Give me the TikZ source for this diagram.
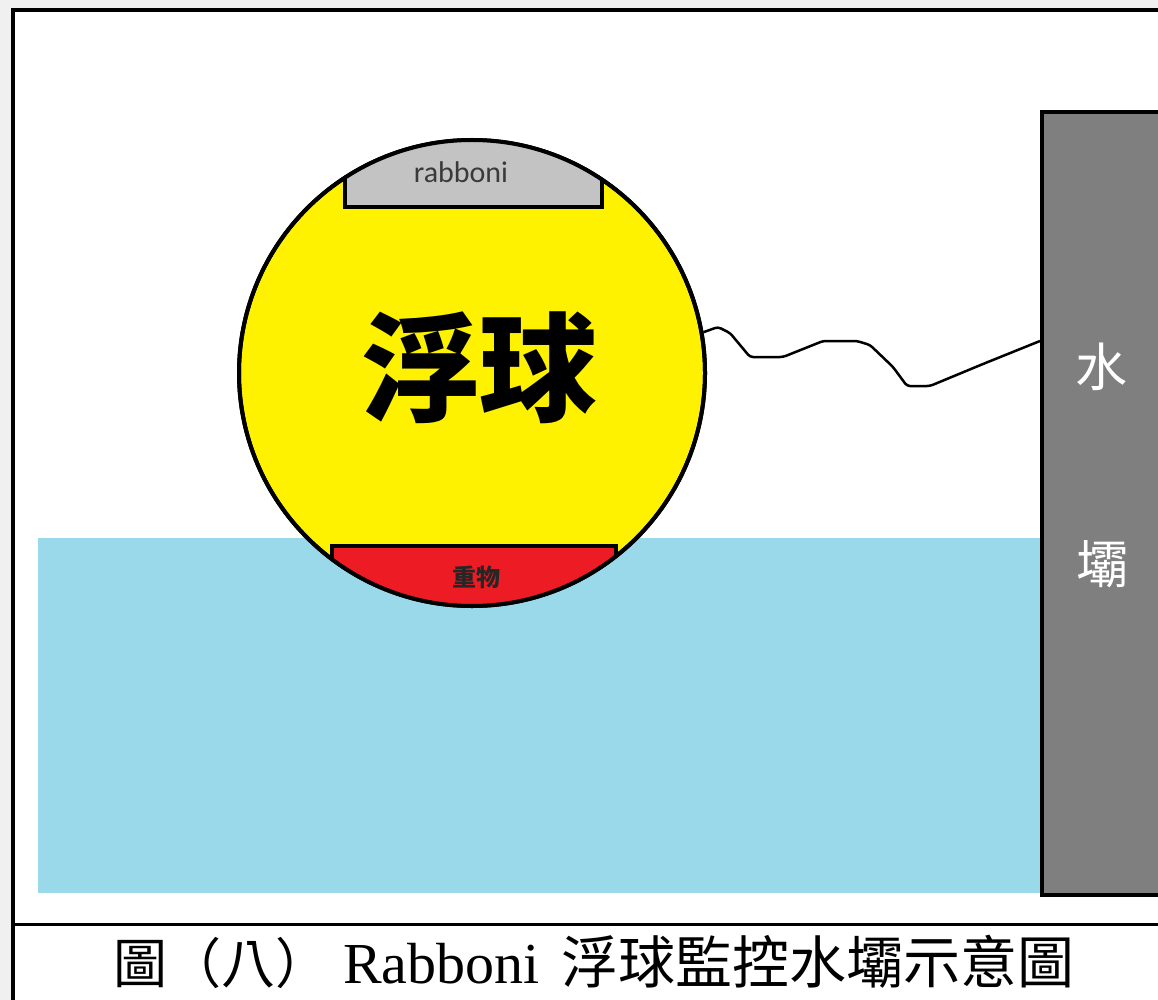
\documentclass[tikz,border=0pt]{standalone}
\usepackage{fontspec}
\newfontfamily\cjk{Noto Sans CJK TC}
\newfontfamily\labelfont{Carlito}
\newfontfamily\capserif{Liberation Serif}

\definecolor{pagegray}{HTML}{F0F0F0}
\definecolor{water}{HTML}{99D9EA}
\definecolor{ballyellow}{HTML}{FFF200}
\definecolor{weightred}{HTML}{ED1C24}
\definecolor{capgray}{HTML}{C3C3C3}
\definecolor{damgray}{HTML}{7F7F7F}
\definecolor{labelink}{HTML}{3A3A3A}

\tikzset{
  outline/.style={line width=4pt, draw=black},
  rope/.style={line width=2.5pt, line join=round, rounded corners=3pt},
  damtext/.style={text=white, font=\cjk\fontsize{52}{52}\selectfont, inner sep=0pt},
}

\begin{document}
\begin{tikzpicture}[x=1pt, y=-1pt]
  \useasboundingbox (0,0) rectangle (1158,1000);
  % page and frame
  \fill[pagegray] (0,0) rectangle (1158,1000);
  \fill[white] (13,10) rectangle (1158,1000);
  \draw[line width=3.5pt] (13,1000) -- (13,10) -- (1158,10);
  \draw[line width=3pt] (13,924) -- (1158,924);

  % water
  \fill[water] (38,538) rectangle (1040,893);

  % dam wall
  \node[outline, fill=damgray, anchor=north west, minimum width=200pt,
        minimum height=783pt, inner sep=0pt] (dam) at (1040,110) {};
  \node[damtext] (dam1) at (1101,367) {水};
  \node[damtext] (dam2) at (1102,564) {壩};

  % float ball
  \node[circle, outline, fill=ballyellow, minimum size=466pt, inner sep=0pt]
        (ball) at (472,373) {};
  \begin{scope}
    \clip (ball.center) circle (233pt);
    \filldraw[fill=capgray, line width=4pt] (345,120) rectangle (602,207);
    \filldraw[fill=weightred, line width=4pt] (332,546) rectangle (616,640);
  \end{scope}
  \draw[line width=4pt] (ball.center) circle (233pt);

  \node[text=labelink, font=\labelfont\fontsize{30}{30}\selectfont,
        anchor=base, inner sep=0pt] (rab) at (461,183) {rabboni};
  \node[font=\cjk\bfseries\fontsize{24}{24}\selectfont, text=black!85,
        inner sep=0pt] (weight) at (476,577) {重物};
  \node[font=\cjk\bfseries\fontsize{118}{118}\selectfont, inner sep=0pt]
        (title) at (479,368) {浮球};

  % tether from the ball to the dam
  \draw[rope] (ball.10) -- (718,327) -- (730,333) -- (750,357) -- (783,357)
    -- (823,341) -- (857,341) -- (870,345) -- (893,367) -- (907,386)
    -- (930,386) -- (983,364) -- (dam.west |- 0,341);

  % caption
  \node[anchor=base west, inner sep=0pt] (caption) at (113,983)
    {{\cjk\fontsize{54}{54}\selectfont 圖（八）}\hspace{14pt}%
     {\capserif\fontsize{58}{58}\selectfont Rabboni}\hspace{22pt}%
     {\cjk\fontsize{57}{57}\selectfont 浮球監控水壩示意圖}};
\end{tikzpicture}
\end{document}
